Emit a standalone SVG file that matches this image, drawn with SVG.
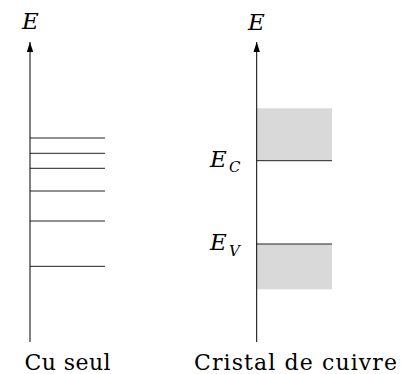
<svg xmlns="http://www.w3.org/2000/svg" width="401" height="374" viewBox="0 0 401 374">
<style>
.ax{stroke:#000;stroke-width:1;fill:none}
.lv{stroke:#222;stroke-width:1}
.band{fill:#d9d9d9;stroke:none}
.rm{font-family:'DejaVu Serif','Liberation Serif','Times New Roman',serif;font-size:22px;fill:#000}
.it{font-family:'DejaVu Serif','Liberation Serif','Times New Roman',serif;font-style:italic;font-size:23px;fill:#000}
.sub{font-family:'DejaVu Serif','Liberation Serif','Times New Roman',serif;font-style:italic;font-size:15px;fill:#000}
</style>
<defs>
<marker id="arr" viewBox="0 0 10 10" refX="10" refY="5" markerWidth="10" markerHeight="10" markerUnits="userSpaceOnUse" orient="auto">
<path d="M0,1.8 L10,5 L0,8.2 Z" fill="#000"/>
</marker>
</defs>
<g id="left-diagram">
<g id="left-levels">
<line class="lv" x1="30" y1="138" x2="105" y2="138"/>
<line class="lv" x1="30" y1="153.3" x2="105" y2="153.3"/>
<line class="lv" x1="30" y1="168.3" x2="105" y2="168.3"/>
<line class="lv" x1="30" y1="191" x2="105" y2="191"/>
<line class="lv" x1="30" y1="221" x2="105" y2="221"/>
<line class="lv" x1="30" y1="266.3" x2="105" y2="266.3"/>
</g>
<text class="it" x="30.5" y="29" text-anchor="middle">E</text>
<text class="rm" x="24.5" y="369.5" textLength="86" lengthAdjust="spacing">Cu seul</text>
</g>
<g id="right-diagram">
<rect class="band" x="256.7" y="108.3" width="75.3" height="52.4"/>
<rect class="band" x="256.7" y="244" width="75.3" height="45.3"/>
<line class="lv" x1="256.7" y1="160.7" x2="332" y2="160.7"/>
<line class="lv" x1="256.7" y1="244" x2="332" y2="244"/>
<text class="it" x="256.5" y="29.5" text-anchor="middle">E</text>
<text class="it" x="210" y="166.7">E</text>
<text class="sub" x="229" y="172">C</text>
<text class="it" x="210" y="250">E</text>
<text class="sub" x="229" y="255.5">V</text>
<text class="rm" x="194" y="369.5" textLength="203" lengthAdjust="spacing">Cristal de cuivre</text>
</g>
<g id="connectors">
<line class="ax" x1="30" y1="342" x2="30" y2="42" marker-end="url(#arr)"/>
<line class="ax" x1="256.7" y1="342" x2="256.7" y2="42" marker-end="url(#arr)"/>
</g>
</svg>
